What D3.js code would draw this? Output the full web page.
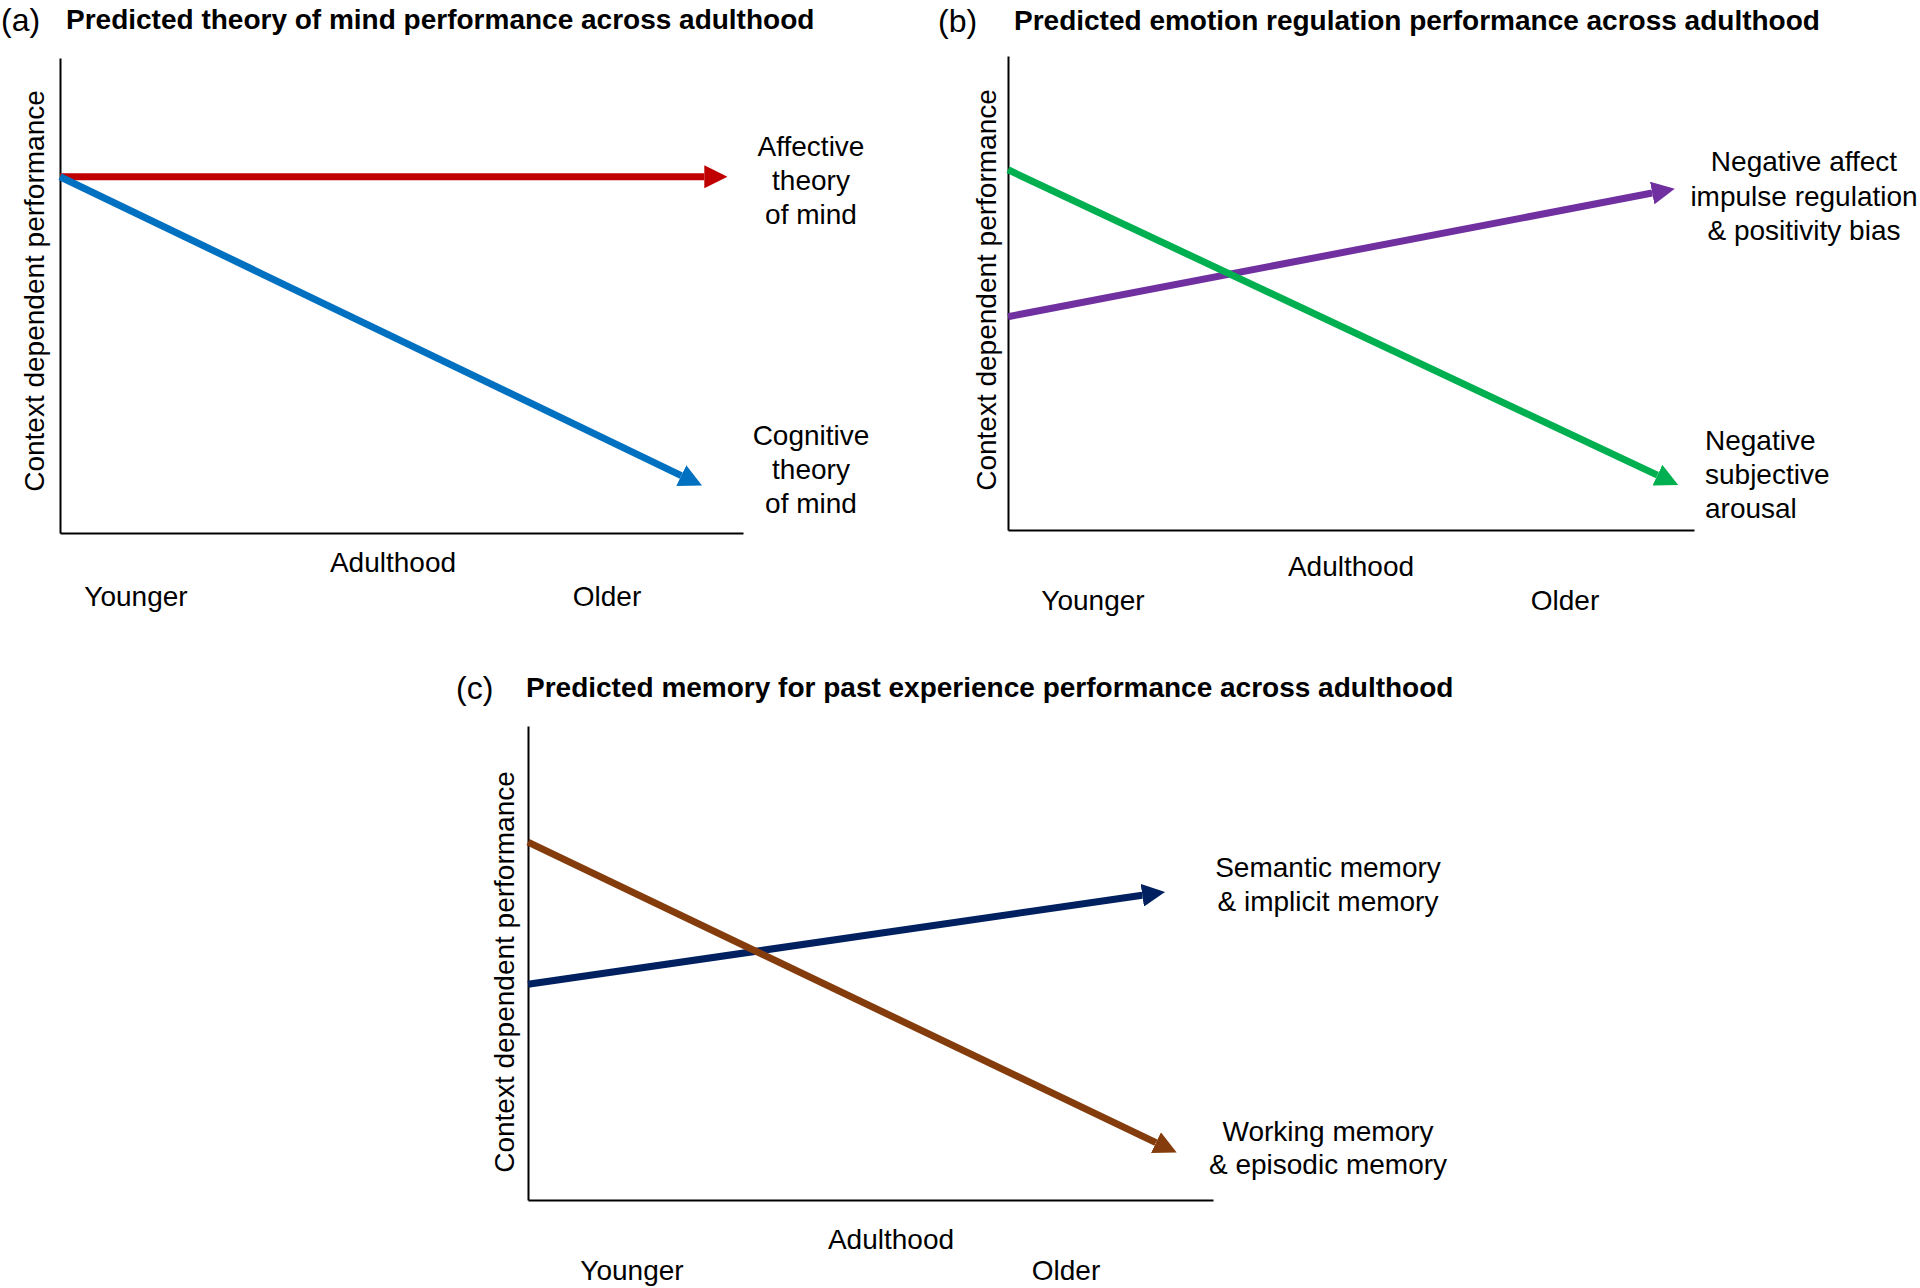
<!DOCTYPE html>
<html>
<head>
<meta charset="utf-8">
<script src="https://cdn.jsdelivr.net/npm/d3@7"></script>
<style>
  body { margin: 0; background: #fff; }
  text { font-family: "Liberation Sans", Arial, Helvetica, sans-serif; fill: #000; }
</style>
</head>
<body>
<div id="chart"></div>
<script>
// ---- data ----
var panelTags = ["(a)", "(b)", "(c)"];
var panelTitles = [
  "Predicted theory of mind performance across adulthood",
  "Predicted emotion regulation performance across adulthood",
  "Predicted memory for past experience performance across adulthood"
];
var xTickLabels = ["Younger", "Older"];
var xTitle = "Adulthood";
var yTitle = "Context dependent performance";

// each series: [x, y] at start (younger) and at arrow tip (older), 0-100 scale
var seriesNamesA = [["Affective", "theory", "of mind"], ["Cognitive", "theory", "of mind"]];
var startA = [[0, 75], [0, 75]];
var endA = [[97.7, 75], [94, 10]];

var seriesNamesB = [["Negative affect", "impulse regulation", "& positivity bias"], ["Negative", "subjective", "arousal"]];
var startB = [[0, 45], [0, 76]];
var endB = [[97.2, 72], [97.7, 9.5]];

var seriesNamesC = [["Semantic memory", "& implicit memory"], ["Working memory", "& episodic memory"]];
var startC = [[0, 45.5], [0, 75.5]];
var endC = [[93, 65], [94.7, 10]];

// ---- layout / style ----
var panels = [
  { names: seriesNamesA, start: startA, end: endA,
    colors: ["#C00000", "#0070C0"],
    left: 60, right: 743, top: 58, bottom: 533,
    tagX: 0, titleX: 66, titleY: 29, yLabX: 34, yLabY: 291,
    adultY: 562, tickY: 596, tickX: [136, 607], adultX: 393,
    labels: [{x: 811, y: [146, 180, 214], anchor: "middle"}, {x: 811, y: [435, 469, 503], anchor: "middle"}] },
  { names: seriesNamesB, start: startB, end: endB,
    colors: ["#7030A0", "#00B050"],
    left: 1008, right: 1694, top: 56, bottom: 530,
    tagX: 937, titleX: 1014, titleY: 30, yLabX: 986, yLabY: 290,
    adultY: 566, tickY: 600, tickX: [1093, 1565], adultX: 1351,
    labels: [{x: 1804, y: [161, 196, 230], anchor: "middle"}, {x: 1705, y: [440, 474, 508], anchor: "start"}] },
  { names: seriesNamesC, start: startC, end: endC,
    colors: ["#002060", "#843C0C"],
    left: 528, right: 1213, top: 726, bottom: 1200,
    tagX: 455, titleX: 526, titleY: 697, yLabX: 504, yLabY: 972,
    adultY: 1239, tickY: 1270, tickX: [632, 1066], adultX: 891,
    labels: [{x: 1328, y: [867, 901], anchor: "middle"}, {x: 1328, y: [1131, 1164], anchor: "middle"}] }
];

var W = 1920, H = 1288;
var fs = 28, headLen = 23, headW = 23, lineW = 7;

var svg = d3.select("#chart").append("svg")
  .attr("width", W).attr("height", H);
svg.append("rect").attr("width", W).attr("height", H).attr("fill", "#fff");

var defs = svg.append("defs");

panels.forEach(function (p, pi) {
  var x = d3.scaleLinear().domain([0, 100]).range([p.left, p.right]);
  var y = d3.scaleLinear().domain([0, 100]).range([p.bottom, p.top]);
  var g = svg.append("g");

  // axes (no ticks, just the domain lines)
  g.append("g").attr("transform", "translate(0," + p.bottom + ")")
    .call(d3.axisBottom(x).tickValues([]).tickSizeOuter(0))
    .select(".domain").attr("stroke", "#000").attr("stroke-width", 2);
  g.append("g").attr("transform", "translate(" + p.left + ",0)")
    .call(d3.axisLeft(y).tickValues([]).tickSizeOuter(0))
    .select(".domain").attr("stroke", "#000").attr("stroke-width", 2);

  // panel tag and title
  g.append("text").attr("x", p.tagX + 1).attr("y", p.titleY + 2)
    .style("font-size", "32px").text(panelTags[pi]);
  g.append("text").attr("x", p.titleX).attr("y", p.titleY)
    .style("font-size", "28px").style("font-weight", "bold").text(panelTitles[pi]);

  // axis titles
  g.append("text")
    .attr("transform", "translate(" + p.yLabX + "," + p.yLabY + ") rotate(-90)")
    .attr("text-anchor", "middle").attr("dy", "0.35em")
    .style("font-size", fs + "px").text(yTitle);
  g.append("text").attr("x", p.adultX).attr("y", p.adultY)
    .attr("text-anchor", "middle").attr("dy", "0.35em")
    .style("font-size", fs + "px").text(xTitle);
  xTickLabels.forEach(function (t, i) {
    g.append("text").attr("x", p.tickX[i]).attr("y", p.tickY)
      .attr("text-anchor", "middle").attr("dy", "0.35em")
      .style("font-size", fs + "px").text(t);
  });

  // arrows
  p.start.forEach(function (s, si) {
    var id = "head" + pi + "_" + si;
    defs.append("marker").attr("id", id)
      .attr("markerUnits", "userSpaceOnUse")
      .attr("viewBox", "0 0 " + headLen + " " + headW)
      .attr("markerWidth", headLen).attr("markerHeight", headW)
      .attr("refX", 0).attr("refY", headW / 2)
      .attr("orient", "auto")
      .append("path")
      .attr("d", "M0,0L" + headLen + "," + (headW / 2) + "L0," + headW + "Z")
      .attr("fill", p.colors[si]);

    var e = p.end[si];
    var x0 = x(s[0]), y0 = y(s[1]), x1 = x(e[0]), y1 = y(e[1]);
    var len = Math.hypot(x1 - x0, y1 - y0);
    var bx = x1 - (x1 - x0) / len * headLen, by = y1 - (y1 - y0) / len * headLen;

    g.append("path")
      .datum([[x0, y0], [bx, by]])
      .attr("d", d3.line())
      .attr("fill", "none")
      .attr("stroke", p.colors[si])
      .attr("stroke-width", lineW)
      .attr("marker-end", "url(#" + id + ")");

    // series label
    var lab = p.labels[si];
    p.names[si].forEach(function (t, li) {
      g.append("text").attr("x", lab.x).attr("y", lab.y[li])
        .attr("text-anchor", lab.anchor).attr("dy", "0.35em")
        .style("font-size", fs + "px").text(t);
    });
  });
});
</script>
</body>
</html>
